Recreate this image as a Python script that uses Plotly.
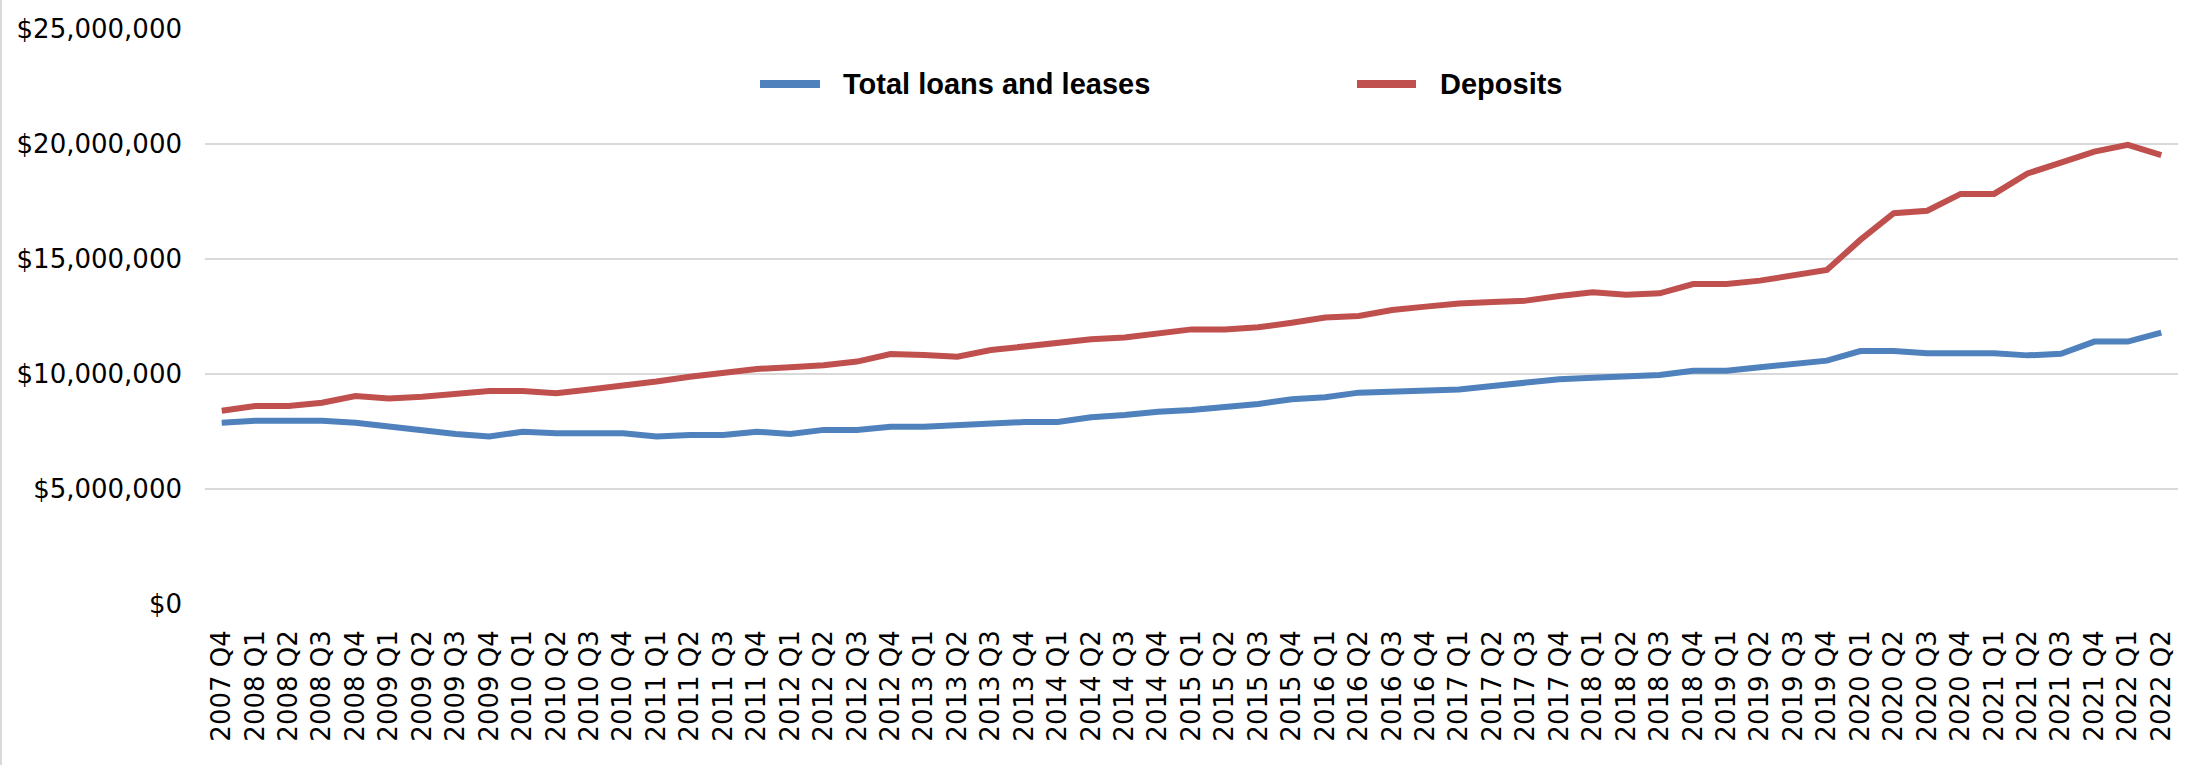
import plotly.graph_objects as go

# Quarter labels, 2007 Q4 through 2022 Q2
quarters = ["2007 Q4"] + [f"{y} Q{q}" for y in range(2008, 2022) for q in range(1, 5)] + ["2022 Q1", "2022 Q2"]

# Balances in dollars
loans_and_leases = [
    7880000, 7970000, 7970000, 7970000, 7880000, 7710000, 7540000, 7390000, 7280000, 7490000,
    7420000, 7420000, 7420000, 7280000, 7350000, 7350000, 7490000, 7390000, 7570000, 7570000,
    7710000, 7710000, 7780000, 7860000, 7910000, 7910000, 8120000, 8220000, 8360000, 8430000,
    8550000, 8700000, 8900000, 8990000, 9190000, 9250000, 9330000, 9330000, 9480000, 9620000,
    9770000, 9840000, 9910000, 9960000, 10140000, 10140000, 10290000, 10430000, 10580000, 11000000,
    11000000, 10900000, 10900000, 10900000, 10810000, 10880000, 11410000, 11410000, 11800000,
]
deposits = [
    8400000, 8610000, 8610000, 8750000, 9040000, 8940000, 9010000, 9120000, 9260000, 9260000,
    9160000, 9330000, 9480000, 9670000, 9880000, 10060000, 10220000, 10290000, 10380000, 10540000,
    10870000, 10830000, 10750000, 11040000, 11190000, 11330000, 11510000, 11590000, 11770000, 11940000,
    11940000, 12030000, 12230000, 12460000, 12520000, 12780000, 12930000, 13070000, 13130000, 13190000,
    13390000, 13550000, 13450000, 13510000, 13910000, 13910000, 14060000, 14260000, 14520000, 15830000,
    16990000, 17100000, 17830000, 17830000, 18720000, 19190000, 19670000, 19960000, 19520000,
]

series_names = ["Total loans and leases", "Deposits"]
series_colors = ["#4F81BD", "#C0504D"]

fig = go.Figure()
for name, values, color in zip(series_names, [loans_and_leases, deposits], series_colors):
    fig.add_trace(go.Scatter(
        x=quarters, y=values, name=name, mode="lines",
        line=dict(color=color, width=6), showlegend=False,
    ))

# Plot-area geometry in pixels, used to place the hand-drawn legend
W, H = 2190, 765
L, R, T, B = 205, 12, 29, 161
pw, ph = W - L - R, H - T - B

def px_x(x):
    return (x - L) / pw

def px_y(y):
    return (H - B - y) / ph

# Legend: a thick coloured stroke followed by a bold label
legend_y = px_y(84)
legend_items = [(760, 820, 842), (1357, 1416, 1439)]
shapes = []
annotations = []
for (x0, x1, tx), name, color in zip(legend_items, series_names, series_colors):
    shapes.append(dict(type="line", xref="paper", yref="paper",
                       x0=px_x(x0), x1=px_x(x1), y0=legend_y, y1=legend_y,
                       line=dict(color=color, width=8)))
    annotations.append(dict(xref="paper", yref="paper", x=px_x(tx), y=legend_y,
                            xanchor="left", yanchor="middle", showarrow=False,
                            text=f"<b>{name}</b>", borderpad=0,
                            font=dict(family="Liberation Sans", size=29, color="#000000")))

# Faint chart border on the left edge
shapes.append(dict(type="line", xref="paper", yref="paper",
                   x0=px_x(1), x1=px_x(1), y0=px_y(H), y1=px_y(0),
                   line=dict(color="#D9D9D9", width=2)))

fig.update_layout(
    width=W, height=H,
    margin=dict(l=L, r=R, t=T, b=B, pad=0),
    paper_bgcolor="white", plot_bgcolor="white",
    font=dict(family="DejaVu Sans", size=26, color="#000000"),
    shapes=shapes, annotations=annotations,
    showlegend=False,
)
fig.update_xaxes(
    type="category", range=[-0.5, len(quarters) - 0.5],
    tickangle=-90, tickfont=dict(size=26), ticklabelstandoff=20,
    showgrid=False, showline=False, zeroline=False, ticks="",
)
fig.update_yaxes(
    range=[0, 25000000], dtick=5000000, tickprefix="$", tickformat=",d",
    tickfont=dict(size=26), ticklabelstandoff=22,
    showgrid=True, gridcolor="#D9D9D9", gridwidth=2,
    zeroline=False, showline=False, ticks="",
)

fig.write_html("out.html")
